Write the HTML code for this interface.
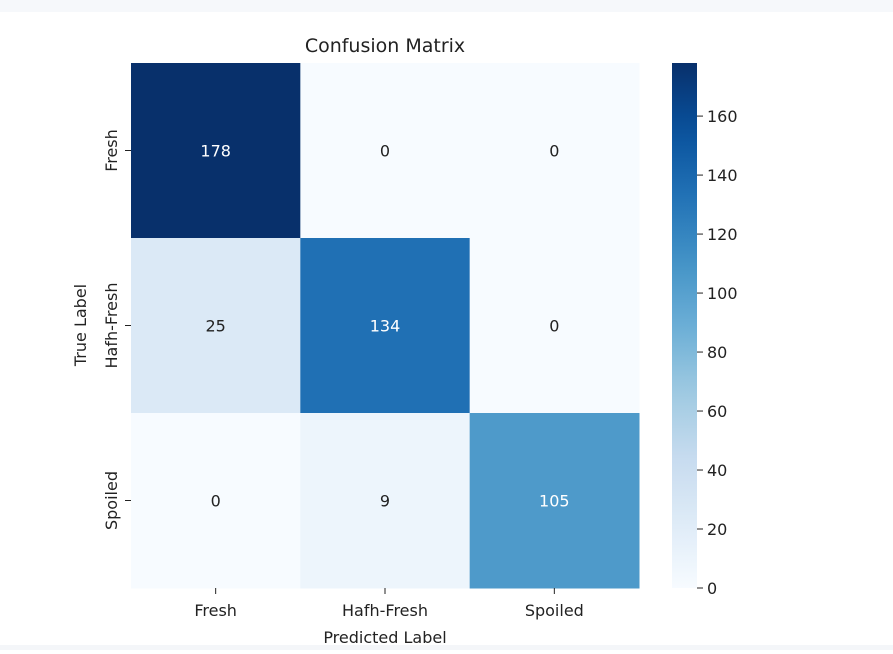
<!DOCTYPE html>
<html><head><meta charset="utf-8"><style>
body{margin:0;background:#fff;font-family:"DejaVu Sans","Liberation Sans",sans-serif;}
svg text{font-family:"DejaVu Sans","Liberation Sans",sans-serif;}
</style></head><body>
<svg id="chart" width="893" height="650" xmlns="http://www.w3.org/2000/svg">
<rect x="0" y="0" width="893" height="12" fill="#f6f8fb"/>
<rect x="0" y="645" width="893" height="5" fill="#f4f6f9"/>
<text x="385" y="52" font-size="19" text-anchor="middle" fill="#222">Confusion Matrix</text>
<g id="cells"></g>
<g id="cbar"></g>
<text x="385" y="643" font-size="16" text-anchor="middle" fill="#222">Predicted Label</text>
<text transform="translate(86,325) rotate(-90)" font-size="16" text-anchor="middle" fill="#222">True Label</text>
</svg>
<script>
const trueLabels=["Fresh","Hafh-Fresh","Spoiled"];
const predLabels=["Fresh","Hafh-Fresh","Spoiled"];
const row0=[178,0,0];
const row1=[25,134,0];
const row2=[0,9,105];
const cbTicks=[0,20,40,60,80,100,120,140,160];
const matrix=[row0,row1,row2];
const NS="http://www.w3.org/2000/svg";
const L=131,R=639,T=63,B=588;
const vmin=0,vmax=Math.max(...matrix.flat());
const cw=(R-L)/predLabels.length,ch=(B-T)/trueLabels.length;
const stops=["#f7fbff","#deebf7","#c6dbef","#9ecae1","#6baed6","#4292c6","#2171b5","#08519c","#08306b"];
function hex(h){return [1,3,5].map(i=>parseInt(h.substr(i,2),16));}
function blues(t){t=Math.max(0,Math.min(1,t));const p=t*8,i=Math.min(7,Math.floor(p)),f=p-i;const a=hex(stops[i]),b=hex(stops[i+1]);return "rgb("+a.map((v,k)=>Math.round(v+(b[k]-v)*f)).join(",")+")";}
function mk(tag,attrs,parent){const e=document.createElementNS(NS,tag);for(const k in attrs)e.setAttribute(k,attrs[k]);parent.appendChild(e);return e;}
const cells=document.getElementById("cells");
matrix.forEach((row,r)=>row.forEach((v,c)=>{
 const t=(v-vmin)/(vmax-vmin);
 const rc=mk("rect",{x:L+c*cw,y:T+r*ch,width:cw+0.5,height:ch+0.5,fill:blues(t)},cells);
 
 
 const tx=mk("text",{x:L+(c+0.5)*cw,y:T+(r+0.5)*ch+6,"font-size":16,"text-anchor":"middle",fill:t>0.5?"#fff":"#222"},cells);
 tx.textContent=v;
 
 
}));
predLabels.forEach((lab,c)=>{
 const x=L+(c+0.5)*cw;
 const tk=mk("line",{x1:x,x2:x,y1:B,y2:B+6,stroke:"#222"},cells);
 
 
 const tx=mk("text",{x:x,y:B+28,"font-size":16,"text-anchor":"middle",fill:"#222"},cells);
 tx.textContent=lab;
 
 
});
trueLabels.forEach((lab,r)=>{
 const y=T+(r+0.5)*ch;
 const tk=mk("line",{x1:L-6,x2:L,y1:y,y2:y,stroke:"#222"},cells);
 
 
 const tx=mk("text",{transform:"translate("+(L-14)+","+y+") rotate(-90)","font-size":16,"text-anchor":"middle",fill:"#222"},cells);
 tx.textContent=lab;
 
 
});
const cb=document.getElementById("cbar");
const CL=672,CR=697;
const defs=mk("defs",{},cb);
const g=mk("linearGradient",{id:"bg",x1:0,y1:1,x2:0,y2:0},defs);
for(let i=0;i<=20;i++){mk("stop",{offset:i/20,"stop-color":blues(i/20)},g);}
const bar=mk("rect",{x:CL,y:T,width:CR-CL,height:B-T,fill:"url(#bg)"},cb);


function cy(v){return B-(v-vmin)/(vmax-vmin)*(B-T);}
cbTicks.forEach(v=>{
 const y=cy(v);
 const tk=mk("line",{x1:CR,x2:CR+6,y1:y,y2:y,stroke:"#222"},cb);
 
 
 const tx=mk("text",{x:CR+10,y:y+6,"font-size":16,fill:"#222"},cb);
 tx.textContent=v;
 
 
});
</script>
</body></html>
